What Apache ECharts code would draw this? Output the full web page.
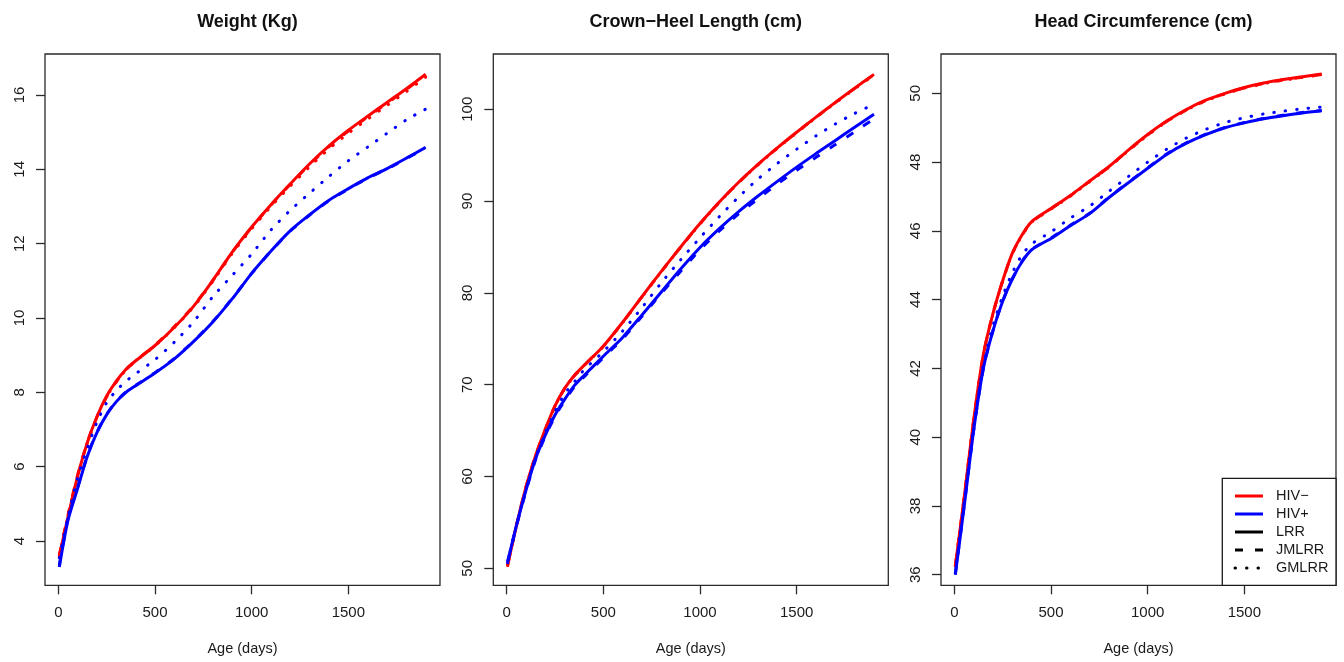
<!DOCTYPE html>
<html>
<head>
<meta charset="utf-8">
<script src="https://cdn.jsdelivr.net/npm/echarts@6/dist/echarts.min.js"></script>
<style>
html,body{margin:0;padding:0;background:#fff;}
#chart{width:1344px;height:662px;}
</style>
</head>
<body>
<div id="chart"></div>
<script>
// ---------- data ----------
const days = [5, 50, 100, 150, 200, 250, 300, 350, 400, 500, 600, 700, 800, 900, 1000, 1100, 1200, 1300, 1400, 1500, 1600, 1700, 1800, 1900];

const panelTitles = ['Weight (Kg)', 'Crown\u2212Heel Length (cm)', 'Head Circumference (cm)'];
const xTicks = [0, 500, 1000, 1500];
const yTicksWeight = [4, 6, 8, 10, 12, 14, 16];
const yTicksLength = [50, 60, 70, 80, 90, 100];
const yTicksHead = [36, 38, 40, 42, 44, 46, 48, 50];
const groupNames = ['HIV\u2212', 'HIV+'];
const methodNames = ['LRR', 'JMLRR', 'GMLRR'];

// Weight (Kg)
const weightNegLRR   = [3.60, 4.65, 5.75, 6.65, 7.35, 7.90, 8.30, 8.62, 8.85, 9.26, 9.75, 10.32, 11.02, 11.78, 12.45, 13.05, 13.61, 14.15, 14.63, 15.05, 15.43, 15.80, 16.17, 16.56];
const weightNegJMLRR = [3.62, 4.70, 5.78, 6.66, 7.34, 7.88, 8.29, 8.61, 8.85, 9.27, 9.77, 10.33, 11.02, 11.77, 12.44, 13.04, 13.60, 14.13, 14.61, 15.03, 15.41, 15.78, 16.15, 16.54];
const weightNegGMLRR = [3.60, 4.68, 5.76, 6.64, 7.33, 7.88, 8.28, 8.60, 8.84, 9.25, 9.74, 10.30, 10.99, 11.74, 12.40, 13.00, 13.55, 14.07, 14.55, 14.97, 15.35, 15.72, 16.09, 16.48];
const weightPosLRR   = [3.30, 4.56, 5.42, 6.28, 6.92, 7.40, 7.75, 8.00, 8.18, 8.52, 8.90, 9.37, 9.90, 10.52, 11.20, 11.80, 12.35, 12.78, 13.17, 13.48, 13.77, 14.02, 14.30, 14.59];
const weightPosJMLRR = [3.35, 4.60, 5.45, 6.30, 6.93, 7.41, 7.76, 8.01, 8.19, 8.53, 8.91, 9.38, 9.91, 10.53, 11.20, 11.80, 12.34, 12.77, 13.16, 13.47, 13.76, 14.01, 14.29, 14.58];
const weightPosGMLRR = [3.55, 4.65, 5.70, 6.50, 7.20, 7.72, 8.05, 8.30, 8.50, 8.88, 9.35, 9.90, 10.58, 11.15, 11.72, 12.37, 12.90, 13.36, 13.81, 14.23, 14.60, 14.97, 15.33, 15.62];

// Crown-Heel Length (cm)
const lengthNegLRR   = [50.30, 54.60, 58.85, 62.30, 65.15, 67.70, 69.60, 71.00, 72.10, 74.20, 76.80, 79.60, 82.35, 85.00, 87.55, 89.90, 92.05, 94.00, 95.80, 97.50, 99.15, 100.75, 102.30, 103.80];
const lengthNegJMLRR = [50.32, 54.62, 58.86, 62.30, 65.14, 67.68, 69.58, 70.98, 72.08, 74.18, 76.78, 79.58, 82.33, 84.98, 87.53, 89.88, 92.03, 93.98, 95.78, 97.48, 99.13, 100.72, 102.27, 103.77];
const lengthNegGMLRR = [50.30, 54.60, 58.84, 62.28, 65.12, 67.66, 69.56, 70.96, 72.06, 74.16, 76.76, 79.56, 82.31, 84.96, 87.50, 89.85, 92.00, 93.95, 95.74, 97.44, 99.09, 100.68, 102.22, 103.72];
const lengthPosLRR   = [50.70, 54.60, 58.50, 61.95, 64.50, 66.70, 68.40, 69.90, 71.00, 73.10, 75.15, 77.60, 80.10, 82.60, 84.95, 87.00, 88.85, 90.55, 92.15, 93.70, 95.17, 96.60, 98.05, 99.45];
const lengthPosJMLRR = [50.70, 54.55, 58.40, 61.85, 64.40, 66.55, 68.25, 69.75, 70.85, 72.95, 75.00, 77.45, 79.95, 82.35, 84.70, 86.75, 88.60, 90.25, 91.85, 93.35, 94.77, 96.15, 97.55, 98.95];
const lengthPosGMLRR = [50.60, 54.60, 58.60, 62.10, 64.80, 67.10, 69.00, 70.30, 71.60, 73.60, 75.85, 78.40, 81.10, 83.60, 86.00, 88.30, 90.45, 92.40, 94.10, 95.65, 97.10, 98.40, 99.55, 100.55];

// Head Circumference (cm)
const headNegLRR   = [36.25, 38.20, 40.50, 42.40, 43.60, 44.55, 45.35, 45.88, 46.27, 46.65, 47.03, 47.45, 47.87, 48.35, 48.80, 49.20, 49.53, 49.80, 50.00, 50.17, 50.30, 50.40, 50.48, 50.56];
const headNegJMLRR = [36.26, 38.21, 40.50, 42.40, 43.60, 44.55, 45.34, 45.87, 46.26, 46.64, 47.02, 47.44, 47.86, 48.34, 48.79, 49.19, 49.52, 49.79, 49.99, 50.16, 50.29, 50.39, 50.47, 50.55];
const headNegGMLRR = [36.25, 38.20, 40.49, 42.39, 43.59, 44.54, 45.33, 45.86, 46.25, 46.63, 47.01, 47.43, 47.85, 48.33, 48.78, 49.18, 49.51, 49.78, 49.98, 50.15, 50.28, 50.38, 50.46, 50.54];
const headPosLRR   = [36.00, 37.95, 40.20, 42.00, 43.10, 43.95, 44.60, 45.10, 45.45, 45.78, 46.15, 46.50, 46.97, 47.40, 47.82, 48.23, 48.55, 48.80, 49.00, 49.14, 49.26, 49.35, 49.43, 49.49];
const headPosJMLRR = [36.02, 37.97, 40.20, 42.00, 43.10, 43.96, 44.61, 45.11, 45.46, 45.79, 46.16, 46.51, 46.98, 47.41, 47.83, 48.24, 48.56, 48.81, 49.01, 49.15, 49.27, 49.36, 49.44, 49.50];
const headPosGMLRR = [36.05, 38.10, 40.30, 42.10, 43.25, 44.10, 44.78, 45.30, 45.62, 45.97, 46.37, 46.72, 47.15, 47.58, 48.00, 48.38, 48.70, 48.95, 49.15, 49.29, 49.40, 49.48, 49.55, 49.60];

// ---------- build ----------
const RED = '#ff0000', BLUE = '#0000ff';
const FONT = '"Liberation Sans", Arial, sans-serif';
const TXT = '#1a1a1a';
const panelData = [
  [[weightNegLRR, weightNegJMLRR, weightNegGMLRR], [weightPosLRR, weightPosJMLRR, weightPosGMLRR]],
  [[lengthNegLRR, lengthNegJMLRR, lengthNegGMLRR], [lengthPosLRR, lengthPosJMLRR, lengthPosGMLRR]],
  [[headNegLRR, headNegJMLRR, headNegGMLRR], [headPosLRR, headPosJMLRR, headPosGMLRR]]
];
const yTickSets = [yTicksWeight, yTicksLength, yTicksHead];
const yRanges = [[2.808, 17.103], [48.15, 106.02], [35.692, 51.143]];
const gridLefts = [45, 493.3, 941];
const gridW = 395, gridTop = 54, gridH = 531.3;

const lineTypes = ['solid', [8, 12], [0.5, 11]];

const grids = [], xAxes = [], yAxes = [], titles = [], series = [];
for (let p = 0; p < 3; p++) {
  grids.push({left: gridLefts[p], top: gridTop, width: gridW, height: gridH,
    show: true, borderColor: '#2a2a2a', borderWidth: 1.3, backgroundColor: '#fff'});
  titles.push({text: panelTitles[p], left: gridLefts[p] + gridW / 2, top: 8, textAlign: 'center',
    textStyle: {fontFamily: FONT, fontSize: 18, fontWeight: 'bold', color: '#111'}});
  xAxes.push({type: 'value', gridIndex: p, min: -69, max: 1974,
    name: 'Age (days)', nameLocation: 'middle', nameGap: 56,
    nameTextStyle: {fontFamily: FONT, fontSize: 14.5, color: TXT},
    splitLine: {show: false}, axisLine: {show: false, onZero: false},
    axisTick: {show: true, inside: false, length: 9, lineStyle: {color: '#2a2a2a', width: 1.3}, customValues: xTicks},
    axisLabel: {show: true, margin: 20, fontFamily: FONT, fontSize: 15, color: TXT, customValues: xTicks,
      formatter: v => String(v)}});
  yAxes.push({type: 'value', gridIndex: p, min: yRanges[p][0], max: yRanges[p][1],
    splitLine: {show: false}, axisLine: {show: false, onZero: false},
    axisTick: {show: true, inside: false, length: 9, lineStyle: {color: '#2a2a2a', width: 1.3}, customValues: yTickSets[p]},
    axisLabel: {show: true, rotate: 90, margin: 18, fontFamily: FONT, fontSize: 15, color: TXT, customValues: yTickSets[p],
      formatter: v => String(v)}});
  for (let g = 0; g < 2; g++) {
    for (let m = 0; m < 3; m++) {
      const vals = panelData[p][g][m];
      series.push({
        type: 'line', name: groupNames[g] + ' ' + methodNames[m],
        xAxisIndex: p, yAxisIndex: p,
        data: days.map((d, i) => [d, vals[i]]),
        showSymbol: false, smooth: 0.25, silent: true,
        lineStyle: {color: g === 0 ? RED : BLUE, width: 3, type: lineTypes[m], cap: m === 2 ? 'round' : 'butt'},
        z: 2 + g
      });
    }
  }
}

// legend drawn as graphic elements in the third panel
const legendEntries = [
  {label: groupNames[0], color: RED, type: 'solid'},
  {label: groupNames[1], color: BLUE, type: 'solid'},
  {label: methodNames[0], color: '#000', type: 'solid'},
  {label: methodNames[1], color: '#000', type: [8, 12]},
  {label: methodNames[2], color: '#000', type: [0.5, 11]}
];
const lg = {x: 1222.3, y: 478.3, w: 113.7, h: 107};
const graphics = [{type: 'rect', shape: {x: lg.x, y: lg.y, width: lg.w, height: lg.h},
  style: {fill: '#fff', stroke: '#1a1a1a', lineWidth: 1.3}, z: 100}];
legendEntries.forEach((e, i) => {
  const yy = 496 + i * 18;
  graphics.push({type: 'line', shape: {x1: 1235, y1: yy, x2: 1263, y2: yy},
    style: {stroke: e.color, lineWidth: 3, lineDash: e.type === 'solid' ? null : e.type, lineCap: i === 4 ? 'round' : 'butt'}, z: 101});
  graphics.push({type: 'text', x: 1276, y: yy, style: {text: e.label, fill: TXT, font: '14.5px ' + FONT, verticalAlign: 'middle'}, z: 101});
});

const chart = echarts.init(document.getElementById('chart'), null, {renderer: 'canvas'});
chart.setOption({
  animation: false,
  backgroundColor: '#fff',
  title: titles,
  grid: grids,
  xAxis: xAxes,
  yAxis: yAxes,
  series: series,
  graphic: graphics
});
</script>
</body>
</html>
